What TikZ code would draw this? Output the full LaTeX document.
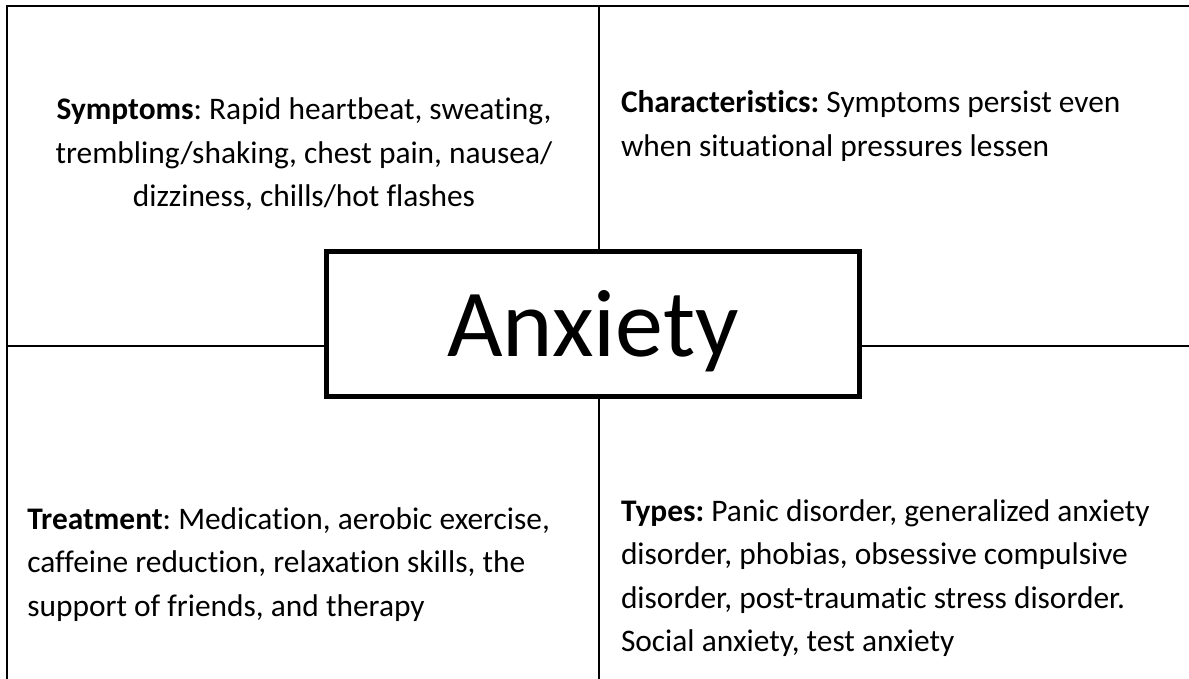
\documentclass[tikz,border=0pt]{standalone}
\usepackage{fontspec}
\setmainfont[Ligatures={NoCommon}]{Carlito}
\frenchspacing
\begin{document}
\begin{tikzpicture}[x=1pt,y=-1pt,
  frame/.style={draw=black,line width=2pt},
  bodytext/.style={inner sep=0pt,outer sep=0pt,font=\fontsize{31.4}{43.5}\selectfont},
  titlebox/.style={draw=black,line width=5pt,inner sep=0pt,outer sep=0pt,
    minimum width=532.8pt,minimum height=144.8pt,
    text height=66pt,text depth=0pt,font=\fontsize{96}{110}\selectfont}]
\useasboundingbox[fill=white] (0,0) rectangle (1189,679);
% corners of the frame
\coordinate (TL) at (6.5,6);
\coordinate (TR) at (1189,6);
\coordinate (BL) at (6.5,679);
\coordinate (VT) at (599,6);
\coordinate (VB) at (599,679);
\coordinate (HL) at (6.5,345.7);
\coordinate (HR) at (1189,345.7);
% central box
\node[titlebox] (anxiety) at (593,323.9) {Anxiety};
% frame and dividers
\draw[frame] (TR) -- (TL) -- (BL);
\draw[frame] (VT) -- (VT |- anxiety.north);
\draw[frame] (VB) -- (VB |- anxiety.south);
\draw[frame] (HL) -- (HL -| anxiety.west);
\draw[frame] (HR) -- (HR -| anxiety.east);
% texts
\node[bodytext,anchor=base] (symptoms) at (304,120)
  {\begin{tabular}[t]{@{}c@{}}\textbf{Symptoms}: Rapid heartbeat, sweating,\\
   trembling/shaking, chest pain, nausea/\\
   dizziness, chills/hot flashes\end{tabular}};
\node[bodytext,anchor=base west] (characteristics) at (621,113)
  {\begin{tabular}[t]{@{}l@{}}\textbf{Characteristics:} Symptoms persist even\\
   when situational pressures lessen\end{tabular}};
\node[bodytext,anchor=base west] (treatment) at (27.3,529)
  {\begin{tabular}[t]{@{}l@{}}\textbf{Treatment}: Medication, aerobic exercise,\\
   caffeine reduction, relaxation skills, the\\
   support of friends, and therapy\end{tabular}};
\node[bodytext,anchor=base west] (types) at (621,521)
  {\begin{tabular}[t]{@{}l@{}}\textbf{Types:} Panic disorder, generalized anxiety\\
   disorder, phobias, obsessive compulsive\\
   disorder, post-traumatic stress disorder.\\
   Social anxiety, test anxiety\end{tabular}};
\end{tikzpicture}
\end{document}
